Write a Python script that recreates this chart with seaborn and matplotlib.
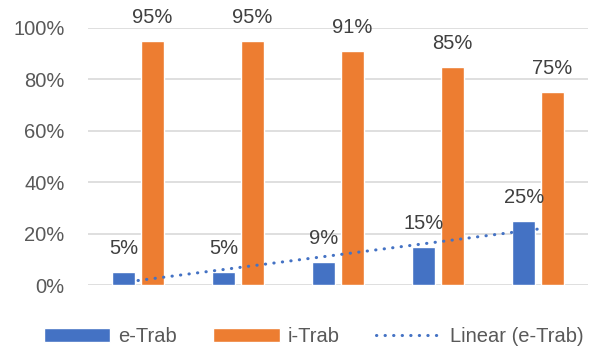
import numpy as np
import pandas as pd
import matplotlib
matplotlib.use("Agg")
import matplotlib.pyplot as plt
import seaborn as sns
from matplotlib.patches import Patch
from matplotlib.lines import Line2D

# data
categories = ["1", "2", "3", "4", "5"]
e_trab = [5, 5, 9, 15, 25]
i_trab = [95, 95, 91, 85, 75]
series_names = ["e-Trab", "i-Trab"]

df = pd.DataFrame({
    "cat": categories * 2,
    "series": [series_names[0]] * 5 + [series_names[1]] * 5,
    "value": e_trab + i_trab,
})

sns.set_theme(style="white")
plt.rcParams['font.family'] = ['Liberation Sans', 'DejaVu Sans']

colors = {'e-Trab': '#4472C4', 'i-Trab': '#ED7D31'}
text_gray = '#595959'
dots = (0, (0.1, 2.7))

fig = plt.figure(figsize=(5.91, 3.49), dpi=100)
ax = fig.add_axes([0.149, 0.183, 0.846, 0.737])

sns.barplot(data=df, x="cat", y="value", hue="series", palette=colors,
            width=0.576, gap=0.2, ax=ax, legend=False, saturation=1)

# data labels
for cont in ax.containers:
    for bar in cont:
        h = bar.get_height()
        ax.annotate(f"{int(round(h))}%", (bar.get_x() + bar.get_width() / 2, h),
                    xytext=(0, 10), textcoords="offset points",
                    ha="center", va="bottom", fontsize=14.5, color='#404040',
                    annotation_clip=False)

# linear trendline for e-Trab
xs = np.arange(len(categories))
slope, intercept = np.polyfit(xs, e_trab, 1)
ax.plot(xs, slope * xs + intercept, linestyle=dots, color='#4472C4',
        linewidth=2.2, dash_capstyle='round')

ax.set_xlim(-0.5, 4.5)
ax.set_ylim(0, 100)
ax.set_yticks([0, 20, 40, 60, 80, 100])
ax.set_yticklabels([f"{v}%" for v in range(0, 101, 20)])
ax.tick_params(axis='y', length=0, pad=17, labelsize=14.5, labelcolor=text_gray)
ax.set_xticks([])
ax.set_xlabel("")
ax.set_ylabel("")
ax.yaxis.grid(True, color='#D9D9D9', linewidth=1.2)
ax.set_axisbelow(True)
for s in ax.spines.values():
    s.set_visible(False)

handles = [
    Patch(facecolor=colors['e-Trab'], label='e-Trab'),
    Patch(facecolor=colors['i-Trab'], label='i-Trab'),
    Line2D([0], [0], color='#4472C4', linestyle=dots, linewidth=2.2,
           dash_capstyle='round', label='Linear (e-Trab)'),
]
fig.legend(handles=handles, loc='center', bbox_to_anchor=(0.531, 0.035), ncol=3,
           frameon=False, fontsize=14.5, labelcolor=text_gray, handlelength=3.3,
           handleheight=0.65, columnspacing=1.8, handletextpad=0.4)

plt.savefig("out.png", dpi=100)
plt.close()
